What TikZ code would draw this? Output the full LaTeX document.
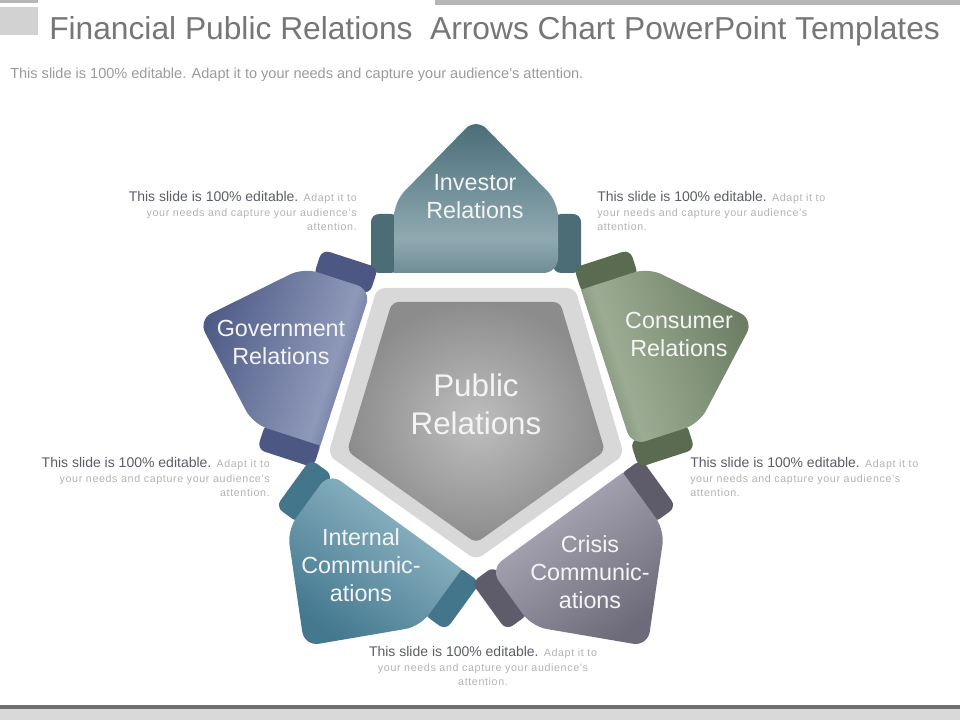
\documentclass[tikz,border=0pt]{standalone}
\usepackage{fontspec}
\setmainfont{Liberation Sans}

\definecolor{titlegray}{HTML}{767676}
\definecolor{subgray}{HTML}{9A9A9A}
\definecolor{notedark}{HTML}{5A5D66}
\definecolor{notelight}{HTML}{B2B2B2}
\definecolor{labelwhite}{HTML}{F4F4F4}
\definecolor{rimgray}{HTML}{D8D8D8}
\definecolor{corelight}{HTML}{BEBEBE}
\definecolor{coredark}{HTML}{8C8C8C}
\definecolor{decogray}{HTML}{D2D2D2}
\definecolor{bargray}{HTML}{B6B6B6}
\definecolor{footdark}{HTML}{707070}
\definecolor{footlight}{HTML}{D9D9D9}

\colorlet{petaltop}{black}
\colorlet{petalmid}{black}
\colorlet{petalbase}{black}
\colorlet{petaltab}{black}
\pgfdeclareverticalshading[petaltop,petalmid,petalbase]{petalfade}{100bp}{color(0bp)=(petalbase); color(25bp)=(petalbase); color(36bp)=(petalmid); color(75bp)=(petaltop); color(100bp)=(petaltop)}

\newcommand{\petalcolors}[4]{\definecolor{petaltop}{HTML}{#1}\definecolor{petalmid}{HTML}{#2}\definecolor{petalbase}{HTML}{#3}\definecolor{petaltab}{HTML}{#4}}
\newcommand{\lightpart}{\fontsize{8}{11}\selectfont\addfontfeature{LetterSpace=6}\color{notelight}}
\newcommand{\blurb}{This slide is 100\% editable. {\lightpart Adapt it to}\\{\lightpart your needs and capture your audience's}\\{\lightpart attention.}}

\begin{document}
\begin{tikzpicture}[x=0.75pt,y=-0.75pt,
  petallabel/.style={align=center, text=labelwhite, font=\fontsize{17.5}{21}\selectfont, inner sep=0pt},
  notetext/.style={font=\fontsize{10.5}{11}\selectfont, text=notedark, inner sep=0pt},
  pics/petal/.style={code={
    \fill[petaltab, rounded corners=6pt] (-105,-196) rectangle (-77,-137);
    \fill[petaltab, rounded corners=6pt] (77,-196) rectangle (105,-137);
    \shade[shading=petalfade, shading angle=#1] (-82,-137) [rounded corners=11pt] -- (-82,-208) -- (0,-292) -- (82,-208) -- (82,-137) [sharp corners] -- cycle;
  }}]

\useasboundingbox (0,0) rectangle (960,720);

\fill[decogray] (0,7) rectangle (38,35);
\fill[bargray] (0,0) rectangle (38,3);
\fill[bargray] (435,0) rectangle (960,5);
\fill[footdark] (0,705) rectangle (960,709);
\fill[footlight] (0,709) rectangle (960,720);

\node[anchor=base west, inner sep=0pt, text=titlegray, font=\fontsize{23.8}{28}\selectfont] (title) at (49,40) {Financial Public Relations\ \ Arrows Chart PowerPoint Templates};
\node[anchor=base west, inner sep=0pt, text=subgray, font=\fontsize{10.9}{12}\selectfont] (subtitle) at (10,79) {This slide is 100\% editable. Adapt it to your needs and capture your audience's attention.};

\fill[rimgray, rounded corners=6pt] (377,288) -- (575,288) -- (624,455) -- (476,560) -- (328,455) -- cycle;
\shade[inner color=corelight, outer color=coredark, rounded corners=5pt] (392,302) -- (560,302) -- (605,451) -- (476,543) -- (347,451) -- cycle;

\petalcolors{476B77}{8FA9B0}{6F8D96}{4D6D76}
\pic[rotate=0] (investor) at (476,410) {petal=0};
\petalcolors{4D5A85}{8E98B9}{5B6690}{4C5883}
\pic[rotate=72] (government) at (476,410) {petal=72};
\petalcolors{43788F}{86AEBD}{4F8298}{44768B}
\pic[rotate=144] (internal) at (476,410) {petal=144};
\petalcolors{6D6B7A}{A3A1B0}{77758A}{5E5C6A}
\pic[rotate=216] (crisis) at (476,410) {petal=216};
\petalcolors{6A7D62}{9CAC94}{6F8268}{5B6B52}
\pic[rotate=288] (consumer) at (476,410) {petal=288};

\node[petallabel, font=\fontsize{23.5}{28.5}\selectfont] (public) at (476,404) {Public\\Relations};
\node[petallabel] (investorlabel) at (475,197) {Investor\\Relations};
\node[petallabel] (governmentlabel) at (281,342) {Government\\Relations};
\node[petallabel] (consumerlabel) at (679,334) {Consumer\\Relations};
\node[petallabel] (internallabel) at (361,565) {Internal\\Communic-\\ations};
\node[petallabel] (crisislabel) at (590,572) {Crisis\\Communic-\\ations};

\node[notetext, align=right, anchor=north east] (noteupleft) at (357,191) {\blurb};
\node[notetext, align=left, anchor=north west] (noteupright) at (597,191) {\blurb};
\node[notetext, align=right, anchor=north east] (noteleft) at (270,457) {\blurb};
\node[notetext, align=left, anchor=north west] (noteright) at (690,457) {\blurb};
\node[notetext, align=center, anchor=north] (notebottom) at (483,646) {\blurb};

\end{tikzpicture}
\end{document}
